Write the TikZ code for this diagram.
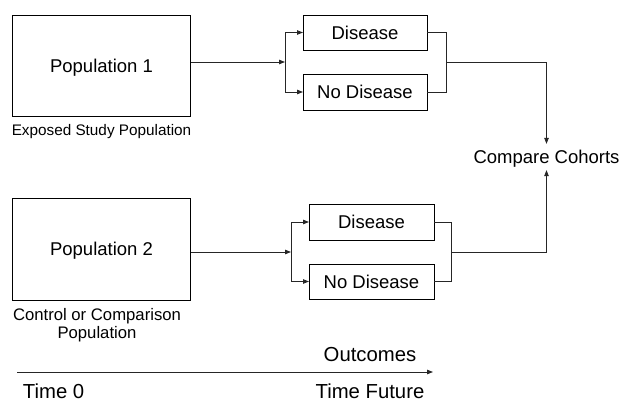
\documentclass[tikz,border=0pt]{standalone}
\usepackage{fontspec}
\setmainfont{Liberation Sans}
\usetikzlibrary{arrows.meta}
\begin{document}
\begin{tikzpicture}[x=1pt,y=-1pt,
  every node/.style={inner sep=0pt, outer sep=0pt},
  line/.style={draw=black!85, line width=0.9pt},
  arr/.style={line, -{Triangle[length=6pt,width=4.5pt]}},
  bigbox/.style={draw=black, line width=0.9pt, font=\fontsize{18.5}{20}\selectfont, text height=13.2pt, text depth=0pt, minimum width=178pt, minimum height=101pt},
  outbox/.style={draw=black, line width=0.9pt, font=\fontsize{18.5}{20}\selectfont, text height=13.2pt, text depth=0pt, minimum width=124pt, minimum height=35pt},
  lbl/.style={font=\fontsize{18.5}{20}\selectfont, text height=13.2pt, text depth=0pt},
  axislbl/.style={font=\fontsize{20.3}{22}\selectfont, text height=14.5pt, text depth=0pt}
]
\useasboundingbox (0,0) rectangle (621,402);

% populations
\node[bigbox] (p1) at (101.5,65.5) {Population 1};
\node[bigbox, minimum height=102pt] (p2) at (101.5,249) {Population 2};
\node[font=\fontsize{15.3}{17}\selectfont, text height=11pt, text depth=0pt] (e1) at (101.5,130) {Exposed Study Population};
\node[font=\fontsize{16.7}{18}\selectfont, align=center, anchor=north] (c2) at (97,308) {Control or Comparison\\Population};

% outcome boxes
\node[outbox] (d1) at (365,32.5) {Disease};
\node[outbox, minimum height=36pt] (n1) at (365,92) {No Disease};
\node[outbox, minimum width=125pt, minimum height=36pt] (d2) at (371.5,222) {Disease};
\node[outbox, minimum width=125pt] (n2) at (371.5,281.5) {No Disease};

% compare
\node[lbl, inner sep=6.5pt] (cc) at (546.5,157) {Compare Cohorts};

% junctions
\coordinate (j1) at (285,62);
\coordinate (j2) at (291,252);
\coordinate (r1) at (446,62);
\coordinate (r2) at (451,252);

% connectors top
\draw[arr] (p1.east |- j1) -- (j1);
\draw[arr] (j1) |- (d1.west);
\draw[arr] (j1) |- (n1.west);
\draw[line] (d1.east) -| (r1);
\draw[line] (n1.east) -| (r1);
\draw[arr] (r1) -| (cc.north);

% connectors bottom
\draw[arr] (p2.east |- j2) -- (j2);
\draw[arr] (j2) |- (d2.west);
\draw[arr] (j2) |- (n2.west);
\draw[line] (d2.east) -| (r2);
\draw[line] (n2.east) -| (r2);
\draw[arr] (r2) -| (cc.south);

% time axis
\coordinate (t0) at (17,372);
\coordinate (t1) at (433,372);
\draw[arr] (t0) -- (t1);
\node[axislbl] (oc) at (370,354.5) {Outcomes};
\node[axislbl, anchor=west] (tz) at (23,391) {Time 0};
\node[axislbl] (tf) at (370,391) {Time Future};
\end{tikzpicture}
\end{document}
